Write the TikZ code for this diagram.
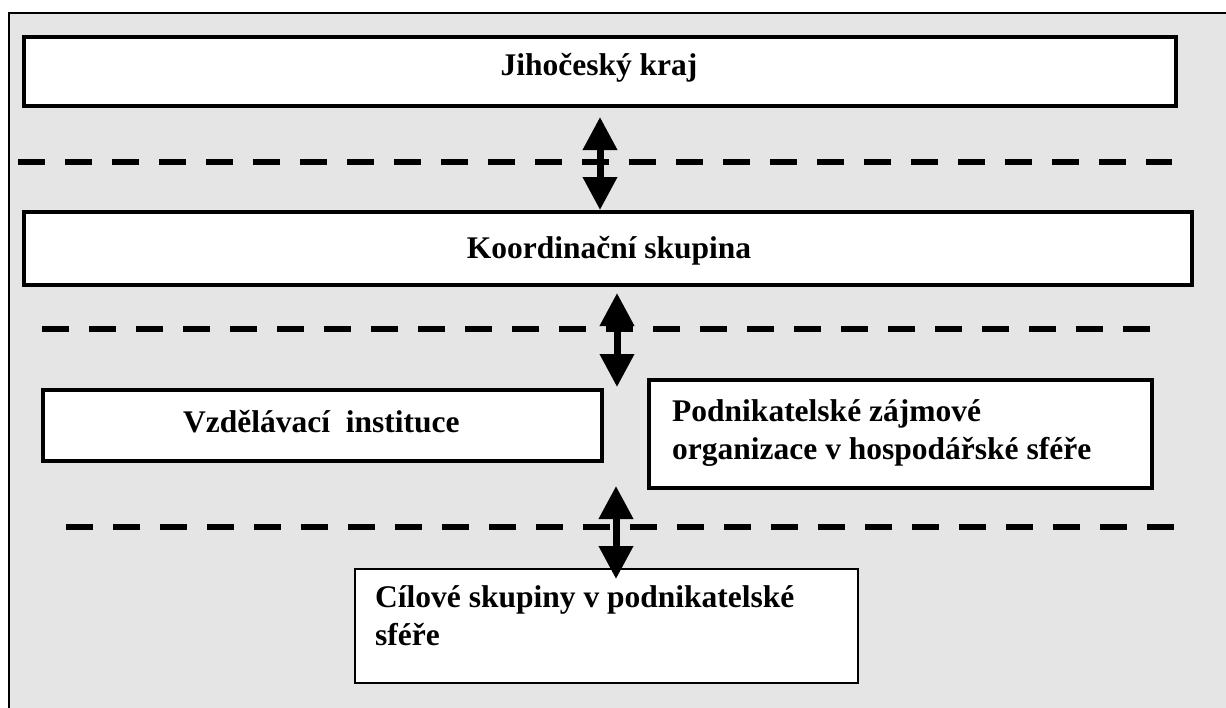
\documentclass[tikz,border=0pt]{standalone}
\usepackage{fontspec}
\setmainfont{Liberation Serif}
\usetikzlibrary{arrows.meta}
\definecolor{bggray}{HTML}{E5E5E5}
\tikzset{
  box/.style={draw=black, fill=white, line width=4pt, inner sep=0pt},
  thinbox/.style={draw=black, fill=white, line width=2pt, inner sep=0pt},
  sepline/.style={line width=6.5pt, dash pattern=on 27pt off 20pt},
  link/.style={line width=7pt, {Triangle[width=33pt,length=33pt]}-{Triangle[width=33pt,length=33pt]}},
  lbl/.style={font=\bfseries\fontsize{31.5}{37.5}\selectfont, inner sep=0pt, align=left}
}
\begin{document}
\begin{tikzpicture}[x=1pt,y=-1pt]
\useasboundingbox (0,0) rectangle (1226,707);
% background and frame
\fill[bggray] (9,13) rectangle (1227,708);
\draw[line width=2pt] (9,708) -- (9,13) -- (1227,13);
% dashed separators
\coordinate (d1a) at (18,162);  \coordinate (d1b) at (1172,162);
\coordinate (d2a) at (42,329);  \coordinate (d2b) at (1152,329);
\coordinate (d3a) at (66,527);  \coordinate (d3b) at (1176,527);
\draw[sepline] (d1a) -- (d1b);
\draw[sepline] (d2a) -- (d2b);
\draw[sepline] (d3a) -- (d3b);
% boxes
\node[box, minimum width=1152pt, minimum height=69pt] (kraj) at (600,71.5) {};
\node[box, minimum width=1168pt, minimum height=72.5pt] (koord) at (608,248.25) {};
\node[box, minimum width=559pt, minimum height=71.5pt] (vzdel) at (322.5,425.25) {};
\node[box, minimum width=503.5pt, minimum height=108pt] (podnik) at (900.25,433.5) {};
\node[thinbox, minimum width=503pt, minimum height=114pt] (cil) at (606.5,626) {};
% arrows
\coordinate (a1t) at (600,117); \coordinate (a1b) at (600,210);
\coordinate (a2t) at (617,293); \coordinate (a2b) at (617,387);
\coordinate (a3t) at (616,486); \coordinate (a3b) at (616,579);
\draw[link] (a1t) -- (a1b);
\draw[link] (a2t) -- (a2b);
\draw[link] (a3t) -- (a3b);
% labels
\node[lbl, anchor=base] (tkraj) at (599,75) {Jihočeský kraj};
\node[lbl, anchor=base] (tkoord) at (609,258) {Koordinační skupina};
\node[lbl, anchor=base west] (tvzdel) at (183,432) {Vzdělávací\ \ instituce};
\node[lbl, anchor=base west] (tpodnik) at (672,459) {Podnikatelské zájmové\\organizace v hospodářské sféře};
\node[lbl, anchor=base west] (tcil) at (375,645) {Cílové skupiny v podnikatelské\\sféře};
\end{tikzpicture}
\end{document}
